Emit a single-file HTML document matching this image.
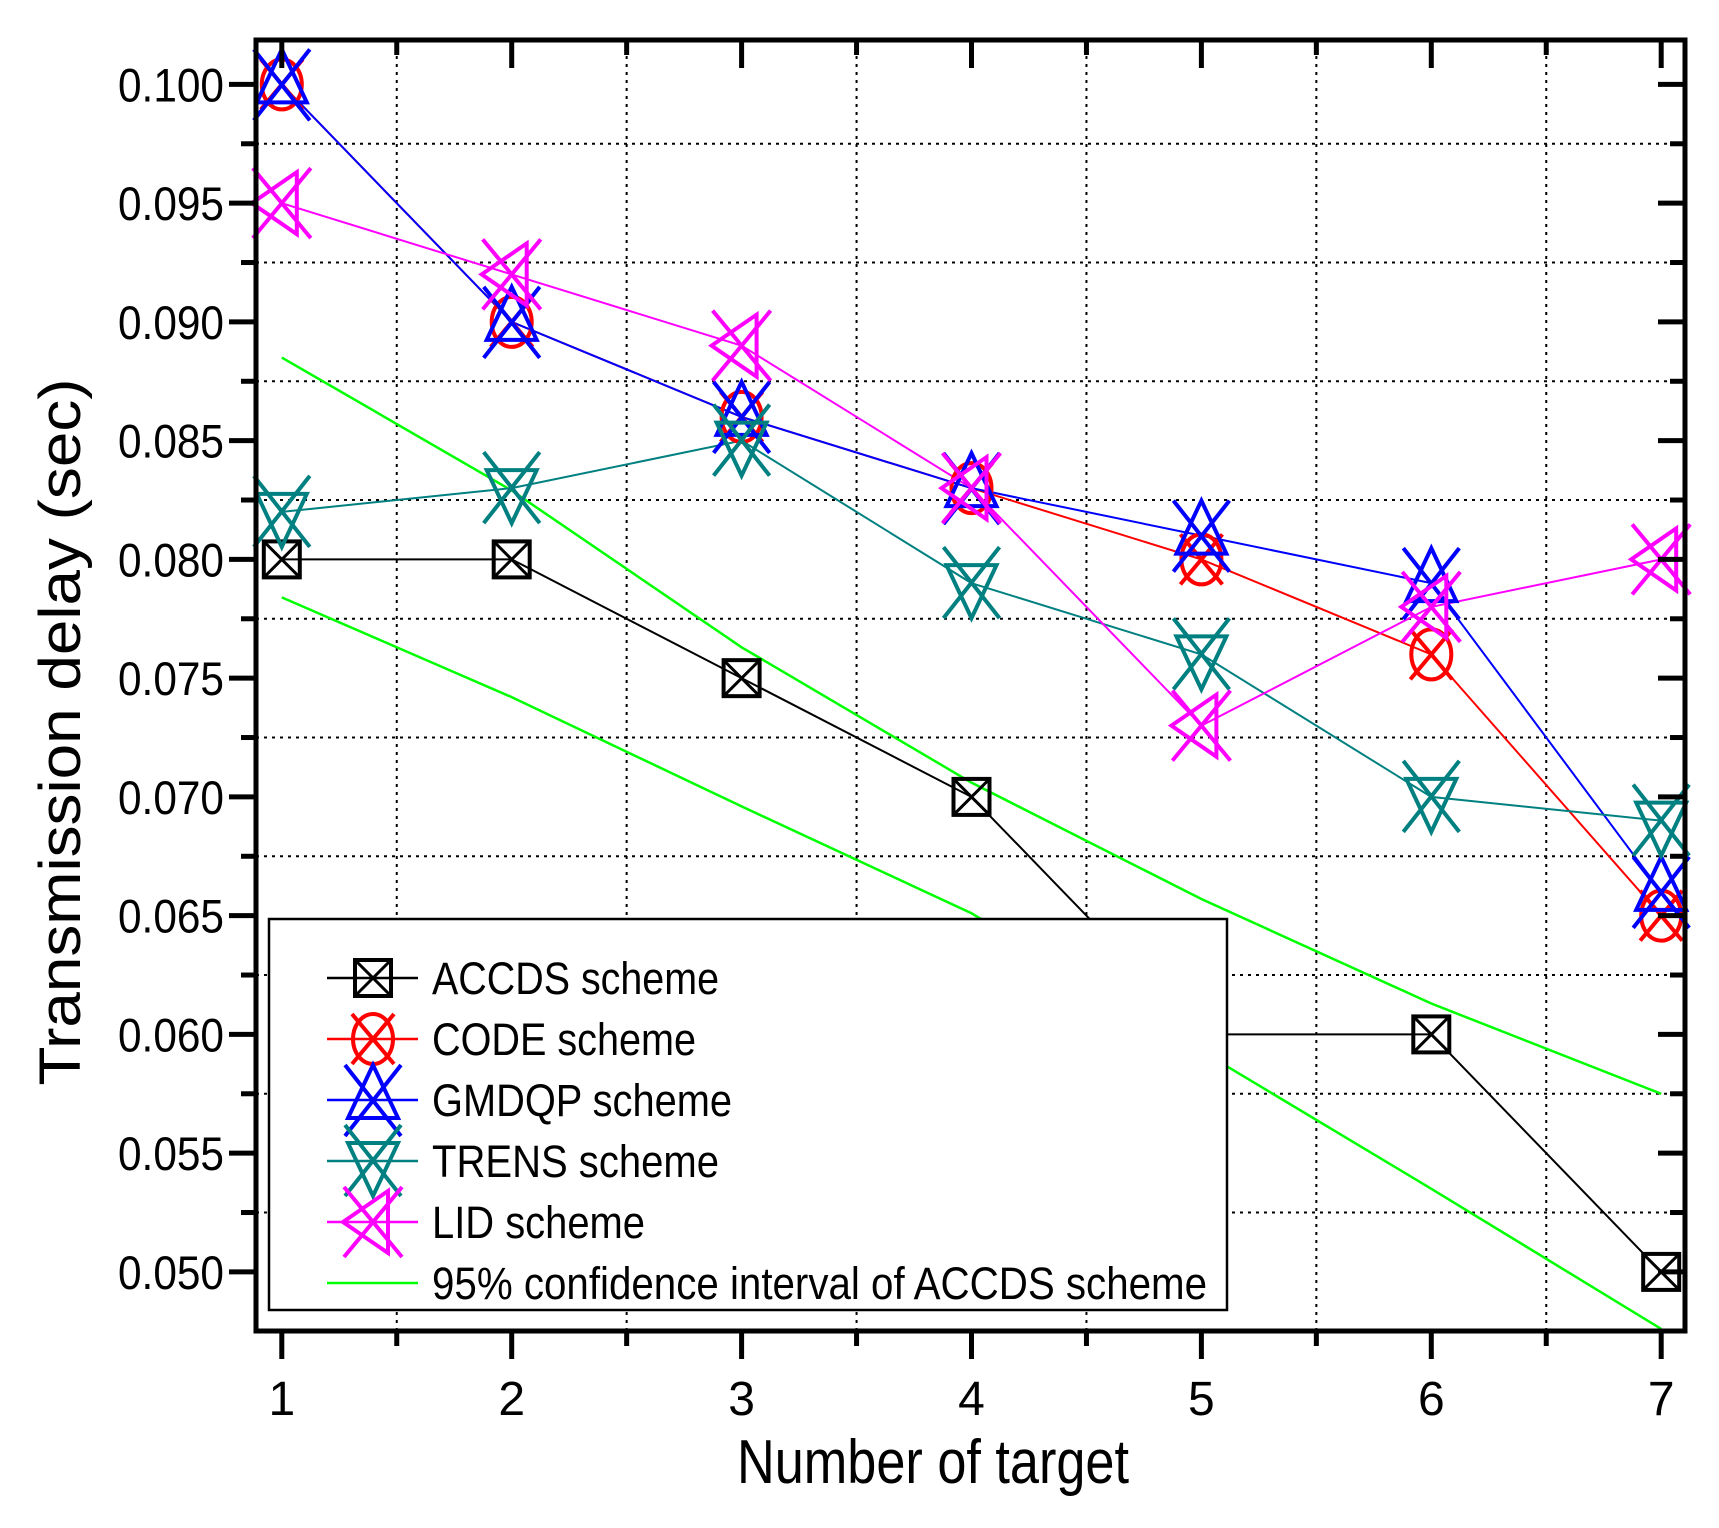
<!DOCTYPE html>
<html><head><meta charset="utf-8"><style>
html,body{margin:0;padding:0;background:#fff;}
svg{display:block;font-family:"Liberation Sans",Arial,sans-serif;}
</style></head><body>
<svg id="chart" width="1719" height="1528" viewBox="0 0 1719 1528"></svg>
<script>
const categories = [1,2,3,4,5,6,7];
const accds = [0.080,0.080,0.075,0.070,0.060,0.060,0.050];
const code  = [0.100,0.090,0.086,0.083,0.080,0.076,0.065];
const gmdqp = [0.100,0.090,0.086,0.083,0.081,0.079,0.066];
const trens = [0.082,0.083,0.085,0.079,0.076,0.070,0.069];
const lid   = [0.095,0.092,0.089,0.083,0.073,0.078,0.080];
const ciUpper = [0.0885,0.0829,0.0763,0.0706,0.0657,0.0613,0.0575];
const ciLower = [0.0784,0.0742,0.0696,0.0651,0.0593,0.0535,0.0476];
const yTicks = [0.050,0.055,0.060,0.065,0.070,0.075,0.080,0.085,0.090,0.095,0.100];
const yTickLabels = ["0.050","0.055","0.060","0.065","0.070","0.075","0.080","0.085","0.090","0.095","0.100"];
const xTickLabels = ["1","2","3","4","5","6","7"];

const NS="http://www.w3.org/2000/svg";
const svg=document.getElementById('chart');
const L=256,R=1685,T=40,B=1331;
const xS=v=>281.8+(v-1)*229.9;
const yS=v=>84.4+(0.100-v)*23750;
function mk(tag,attrs,parent){const e=document.createElementNS(NS,tag);for(const k in attrs)e.setAttribute(k,attrs[k]);(parent||svg).appendChild(e);return e;}

// grid
const grid=mk('g',{});


for(let i=0;i<yTicks.length;i++){const v=yTicks[i]+0.0025;const y=yS(v);if(y>T&&y<B)mk('line',{x1:L,x2:R,y1:y,y2:y,stroke:'#000','stroke-width':2,'stroke-dasharray':'3,5'},grid);}
for(let i=0;i<categories.length-1;i++){const x=xS(categories[i]+0.5);mk('line',{x1:x,x2:x,y1:T,y2:B,stroke:'#000','stroke-width':2,'stroke-dasharray':'3,5'},grid);}

// ci lines
function poly(vals,color,w,name){const p=mk('polyline',{points:vals.map((v,i)=>xS(categories[i])+','+yS(v)).join(' '),fill:'none',stroke:color,'stroke-width':w});

return p;}
poly(ciUpper,'#00ff00',2.5,'ci-upper-line');
poly(ciLower,'#00ff00',2.5,'ci-lower-line');

// marker drawing
function marker(type,cx,cy,color,g){
 const sw=4;
 if(type==='sq'){mk('rect',{x:cx-18,y:cy-18,width:36,height:36,fill:'none',stroke:color,'stroke-width':sw},g);
  mk('path',{d:`M${cx-18},${cy-18}L${cx+18},${cy+18}M${cx+18},${cy-18}L${cx-18},${cy+18}`,stroke:color,'stroke-width':3,fill:'none'},g);}
 else if(type==='circ'){mk('ellipse',{cx:cx,cy:cy,rx:20,ry:25,fill:'none',stroke:color,'stroke-width':sw},g);
  mk('path',{d:`M${cx-21},${cy-25}L${cx+21},${cy+25}M${cx+21},${cy-25}L${cx-21},${cy+25}`,stroke:color,'stroke-width':sw,fill:'none'},g);}
 else if(type==='up'){mk('path',{d:`M${cx},${cy-35}L${cx+25},${cy+18}L${cx-25},${cy+18}Z`,stroke:color,'stroke-width':sw,fill:'none'},g);
  mk('path',{d:`M${cx-28},${cy-35}L${cx+28},${cy+36}M${cx+28},${cy-35}L${cx-28},${cy+36}`,stroke:color,'stroke-width':sw,fill:'none'},g);}
 else if(type==='down'){mk('path',{d:`M${cx},${cy+35}L${cx+25},${cy-18}L${cx-25},${cy-18}Z`,stroke:color,'stroke-width':sw,fill:'none'},g);
  mk('path',{d:`M${cx-28},${cy-36}L${cx+28},${cy+35}M${cx+28},${cy-36}L${cx-28},${cy+35}`,stroke:color,'stroke-width':sw,fill:'none'},g);}
 else if(type==='left'){mk('path',{d:`M${cx-30},${cy}L${cx+15},${cy-31}L${cx+15},${cy+31}Z`,stroke:color,'stroke-width':sw,fill:'none'},g);
  mk('path',{d:`M${cx-29},${cy-35}L${cx+29},${cy+35}M${cx+29},${cy-35}L${cx-29},${cy+35}`,stroke:color,'stroke-width':sw,fill:'none'},g);}
}
const series=[
 {name:'accds',vals:accds,color:'#000',m:'sq',label:'ACCDS scheme'},
 {name:'code',vals:code,color:'#ff0000',m:'circ',label:'CODE scheme'},
 {name:'gmdqp',vals:gmdqp,color:'#0000ff',m:'up',label:'GMDQP scheme'},
 {name:'trens',vals:trens,color:'#008080',m:'down',label:'TRENS scheme'},
 {name:'lid',vals:lid,color:'#ff00ff',m:'left',label:'LID scheme'}];
series.forEach(s=>{poly(s.vals,s.color,2,s.name+'-line');});
series.forEach(s=>{const g=mk('g',{});
 
 
 s.vals.forEach((v,i)=>marker(s.m,xS(categories[i]),yS(v),s.color,g));});

// legend
const lg=mk('g',{});


mk('rect',{x:269,y:919,width:958,height:391,fill:'#fff',stroke:'#000','stroke-width':2.5},lg);
const rows=[978,1039,1100,1161,1222,1283];
const widths=[287,264,300,287,213,775];
series.forEach((s,i)=>{const y=rows[i];
 mk('line',{x1:327,x2:418,y1:y,y2:y,stroke:s.color,'stroke-width':2.5},lg);
 marker(s.m,373,y,s.color,lg);
 const t=mk('text',{x:432,y:y+16,'font-size':45,textLength:widths[i],lengthAdjust:'spacingAndGlyphs'},lg);t.textContent=s.label;
 
 });
mk('line',{x1:327,x2:418,y1:rows[5],y2:rows[5],stroke:'#00ff00','stroke-width':2.5},lg);
const t6=mk('text',{x:432,y:rows[5]+16,'font-size':45,textLength:775,lengthAdjust:'spacingAndGlyphs'},lg);t6.textContent='95% confidence interval of ACCDS scheme';



// frame and ticks
const ax=mk('g',{});


mk('rect',{x:L,y:T,width:R-L,height:B-T,fill:'none',stroke:'#000','stroke-width':5},ax);
yTicks.forEach((v,i)=>{const y=yS(v);
 mk('line',{x1:L-27,x2:L,y1:y,y2:y,stroke:'#000','stroke-width':5},ax);
 mk('line',{x1:R-27,x2:R,y1:y,y2:y,stroke:'#000','stroke-width':5},ax);
 const ym=yS(v+0.0025);
 if(ym>T+5){mk('line',{x1:L-15,x2:L,y1:ym,y2:ym,stroke:'#000','stroke-width':5},ax);
  mk('line',{x1:R-15,x2:R,y1:ym,y2:ym,stroke:'#000','stroke-width':5},ax);}
 const t=mk('text',{x:224,y:y+17,'font-size':47,'text-anchor':'end',textLength:106,lengthAdjust:'spacingAndGlyphs'},ax);t.textContent=yTickLabels[i];
 
 });
{const ym=yS(0.0475);}
categories.forEach((c,i)=>{const x=xS(c);
 mk('line',{x1:x,x2:x,y1:B,y2:B+28,stroke:'#000','stroke-width':5},ax);
 mk('line',{x1:x,x2:x,y1:T,y2:T+28,stroke:'#000','stroke-width':5},ax);
 if(i<categories.length-1){const xm=xS(c+0.5);
  mk('line',{x1:xm,x2:xm,y1:B,y2:B+15,stroke:'#000','stroke-width':5},ax);
  mk('line',{x1:xm,x2:xm,y1:T,y2:T+15,stroke:'#000','stroke-width':5},ax);}
 const t=mk('text',{x:x,y:1415,'font-size':48,'text-anchor':'middle'},ax);t.textContent=xTickLabels[i];
 
 });

const xt=mk('text',{x:933,y:1483,'font-size':62,'text-anchor':'middle',textLength:392,lengthAdjust:'spacingAndGlyphs'});xt.textContent='Number of target';


const yt=mk('text',{x:0,y:0,'font-size':58,'text-anchor':'middle',textLength:707,lengthAdjust:'spacingAndGlyphs',transform:'translate(80,732) rotate(-90)'});yt.textContent='Transmission delay (sec)';


</script>
</body></html>
